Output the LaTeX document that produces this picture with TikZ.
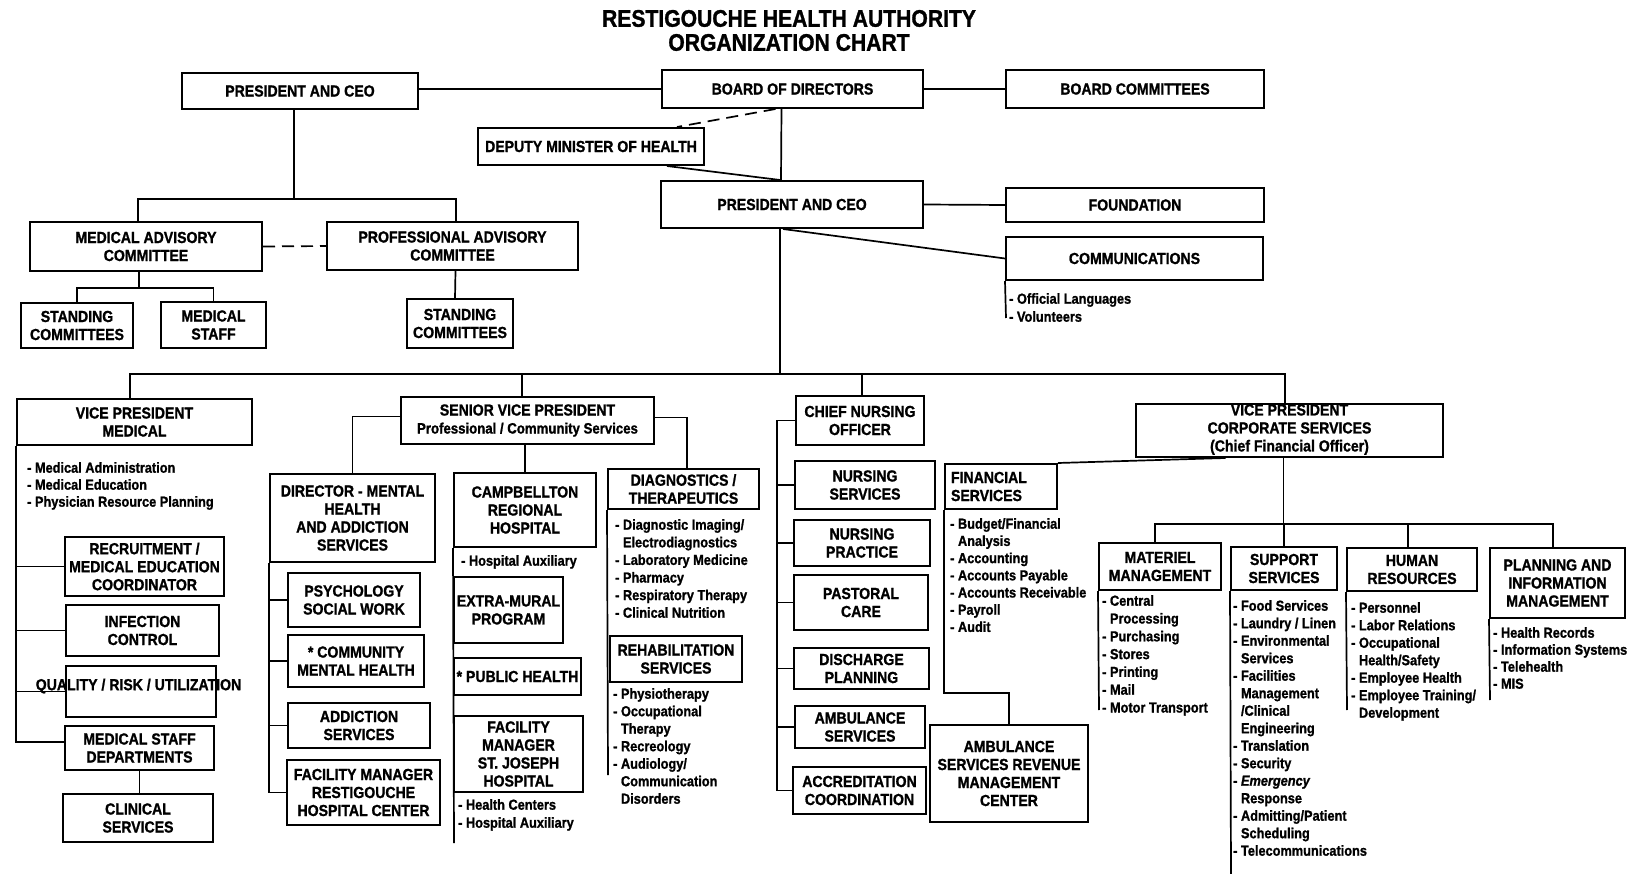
\documentclass[tikz,border=0pt]{standalone}
\usepackage{fontspec}
\setmainfont{Liberation Sans}[FakeStretch=0.88, BoldFeatures={FakeBold=1.2}, BoldItalicFeatures={FakeBold=1.2}]
\newcommand{\boxfont}{\fontsize{16}{18}\selectfont\bfseries}
\newcommand{\ind}{\hphantom{- }}
\begin{document}
\begin{tikzpicture}[x=1pt,y=-1pt,
  bx/.style={draw, line width=2pt, inner sep=0pt, align=center, font=\boxfont},
  ln/.style={line width=1.7pt},
  dln/.style={line width=1.7pt, dash pattern=on 12pt off 7pt},
  bl/.style={anchor=north west, inner sep=0pt, align=left, font=\fontsize{14.5}{#1}\selectfont\bfseries},
  bl/.default=17.5,
  ttl/.style={inner sep=0pt, align=center, font=\fontsize{24}{24}\selectfont\bfseries}
]
\useasboundingbox (0,0) rectangle (1636,874);

% title
\node[ttl] (title) at (789,30.5) {RESTIGOUCHE HEALTH AUTHORITY\\ORGANIZATION CHART};

% top level
\node[bx, minimum width=236pt, minimum height=36pt] (pcA) at (300,91) {PRESIDENT AND CEO};
\node[bx, minimum width=261pt, minimum height=38pt] (bod) at (792.5,89) {BOARD OF DIRECTORS};
\node[bx, minimum width=258pt, minimum height=38pt] (bc) at (1135,89) {BOARD COMMITTEES};
\node[bx, minimum width=226pt, minimum height=37pt] (dep) at (591,146.5) {DEPUTY MINISTER OF HEALTH};
\node[bx, minimum width=262pt, minimum height=47pt] (pcB) at (792,204.5) {PRESIDENT AND CEO};
\node[bx, minimum width=258pt, minimum height=34pt] (fnd) at (1135,205) {FOUNDATION};
\node[bx, minimum width=257pt, minimum height=43pt] (com) at (1134.5,258.5) {COMMUNICATIONS};
\node[bl=18] (comL) at (1009,293) {- Official Languages\\- Volunteers};

% advisory committees
\node[bx, minimum width=232pt, minimum height=49pt] (mac) at (146,246.5) {MEDICAL ADVISORY\\COMMITTEE};
\node[bx, minimum width=251pt, minimum height=48pt] (pac) at (452.5,246) {PROFESSIONAL ADVISORY\\COMMITTEE};
\node[bx, minimum width=112pt, minimum height=45pt] (sc1) at (77,325.5) {STANDING\\COMMITTEES};
\node[bx, minimum width=105pt, minimum height=46pt] (ms) at (213.5,325) {MEDICAL\\STAFF};
\node[bx, minimum width=106pt, minimum height=49pt] (sc2) at (460,323.5) {STANDING\\COMMITTEES};

% vice presidents
\node[bx, minimum width=235pt, minimum height=46pt] (vpm) at (134.5,422) {VICE PRESIDENT\\MEDICAL};
\node[bx, minimum width=253pt, minimum height=47pt] (svp) at (527.5,420.5) {SENIOR VICE PRESIDENT\\{\fontsize{15}{18}\selectfont Professional / Community Services}};
\node[bx, minimum width=128pt, minimum height=49pt] (cno) at (860,420.5) {CHIEF NURSING\\OFFICER};
\node[bx, minimum width=307pt, minimum height=53pt] (vpc) at (1289.5,430.5) {VICE PRESIDENT\\CORPORATE SERVICES\\\underline{(Chief Financial Officer)}};

% VP medical column
\node[bl=17] (vpmL) at (27,462) {- Medical Administration\\- Medical Education\\- Physician Resource Planning};
\node[bx, minimum width=159pt, minimum height=59pt] (rec) at (144.5,566.5) {RECRUITMENT /\\MEDICAL EDUCATION\\COORDINATOR};
\node[bx, minimum width=153pt, minimum height=51pt] (inf) at (142.5,630.5) {INFECTION\\CONTROL};
\node[bx, minimum width=150pt, minimum height=51pt] (qual) at (141,691.5) {};
\node[inner sep=0pt, font=\boxfont] (qtext) at (138.5,686) {QUALITY / RISK / UTILIZATION};
\node[bx, minimum width=149pt, minimum height=44pt] (msd) at (139.5,748) {MEDICAL STAFF\\DEPARTMENTS};
\node[bx, minimum width=150pt, minimum height=48pt] (cs) at (138,818) {CLINICAL\\SERVICES};

% SVP column
\node[bx, minimum width=165pt, minimum height=88pt] (dir) at (352.5,518) {DIRECTOR - MENTAL\\HEALTH\\AND ADDICTION\\SERVICES};
\node[bx, minimum width=132pt, minimum height=54pt] (psy) at (354,600) {PSYCHOLOGY\\SOCIAL WORK};
\node[bx, minimum width=136pt, minimum height=52pt] (cmh) at (356,661) {* COMMUNITY\\MENTAL HEALTH};
\node[bx, minimum width=142pt, minimum height=45pt] (add) at (359,725.5) {ADDICTION\\SERVICES};
\node[bx, minimum width=153pt, minimum height=65pt] (fmr) at (363.5,792.5) {FACILITY MANAGER\\RESTIGOUCHE\\HOSPITAL CENTER};

\node[bx, minimum width=142pt, minimum height=74pt] (cam) at (525,510) {CAMPBELLTON\\REGIONAL\\HOSPITAL};
\node[bl] (camL) at (461,555) {- Hospital Auxiliary};
\node[bx, minimum width=109pt, minimum height=66pt] (emp) at (508.5,610) {EXTRA-MURAL\\PROGRAM};
\node[bx, minimum width=127pt, minimum height=37pt] (ph) at (517.5,676.5) {* PUBLIC HEALTH};
\node[bx, minimum width=129pt, minimum height=76pt] (fmj) at (518.5,754) {FACILITY\\MANAGER\\ST. JOSEPH\\HOSPITAL};
\node[bl=18] (fmjL) at (458,799) {- Health Centers\\- Hospital Auxiliary};

\node[bx, minimum width=151pt, minimum height=40pt] (dia) at (683.5,489) {DIAGNOSTICS /\\THERAPEUTICS};
\node[bl=17.6] (diaL) at (615,519) {- Diagnostic Imaging/\\\ind Electrodiagnostics\\- Laboratory Medicine\\- Pharmacy\\- Respiratory Therapy\\- Clinical Nutrition};
\node[bx, minimum width=132pt, minimum height=46pt] (reh) at (676,659) {REHABILITATION\\SERVICES};
\node[bl] (rehL) at (613,688) {- Physiotherapy\\- Occupational\\\ind Therapy\\- Recreology\\- Audiology/\\\ind Communication\\\ind Disorders};

% nursing column
\node[bx, minimum width=140pt, minimum height=48pt] (ns) at (865,485) {NURSING\\SERVICES};
\node[bx, minimum width=136pt, minimum height=46pt] (np) at (862,543) {NURSING\\PRACTICE};
\node[bx, minimum width=134pt, minimum height=55pt] (pc) at (861,602.5) {PASTORAL\\CARE};
\node[bx, minimum width=135pt, minimum height=41pt] (dp) at (861.5,668.5) {DISCHARGE\\PLANNING};
\node[bx, minimum width=130pt, minimum height=42pt] (amb) at (860,727) {AMBULANCE\\SERVICES};
\node[bx, minimum width=133pt, minimum height=47pt] (ac) at (859.5,790.5) {ACCREDITATION\\COORDINATION};

% corporate column
\node[bx, minimum width=112pt, minimum height=45pt, text width=100pt, align=left] (fs) at (1001,486.5) {FINANCIAL\\SERVICES};
\node[bl=17.2] (fsL) at (950,518) {- Budget/Financial\\\ind Analysis\\- Accounting\\- Accounts Payable\\- Accounts Receivable\\- Payroll\\- Audit};
\node[bx, minimum width=158pt, minimum height=97pt] (asr) at (1009,773.5) {AMBULANCE\\SERVICES REVENUE\\MANAGEMENT\\CENTER};
\node[bx, minimum width=122pt, minimum height=47pt] (mm) at (1160,566.5) {MATERIEL\\MANAGEMENT};
\node[bl=17.8] (mmL) at (1102,595) {- Central\\\ind Processing\\- Purchasing\\- Stores\\- Printing\\- Mail\\- Motor Transport};
\node[bx, minimum width=106pt, minimum height=43pt] (ss) at (1284,568.5) {SUPPORT\\SERVICES};
\node[bl] (ssL) at (1233,600) {- Food Services\\- Laundry / Linen\\- Environmental\\\ind Services\\- Facilities\\\ind Management\\\ind /Clinical\\\ind Engineering\\- Translation\\- Security\\- \textit{Emergency}\\\ind Response\\- Admitting/Patient\\\ind Scheduling\\- Telecommunications};
\node[bx, minimum width=130pt, minimum height=43pt] (hr) at (1412,569.5) {HUMAN\\RESOURCES};
\node[bl] (hrL) at (1351,602) {- Personnel\\- Labor Relations\\- Occupational\\\ind Health/Safety\\- Employee Health\\- Employee Training/\\\ind Development};
\node[bx, minimum width=135pt, minimum height=70pt] (pim) at (1557.5,583) {PLANNING AND\\INFORMATION\\MANAGEMENT};
\node[bl=17] (pimL) at (1493,627) {- Health Records\\- Information Systems\\- Telehealth\\- MIS};

% free ends of vertical list lines
\coordinate (comE) at (1006,318);
\coordinate (camE) at (454,843);
\coordinate (diaE) at (608,775);
\coordinate (fsJ) at (1009,693);
\coordinate (mmE) at (1099,710);
\coordinate (ssE) at (1231,874);
\coordinate (hrE) at (1347,710);
\coordinate (pimE) at (1490,700);

% top connectors
\draw[ln] (pcA.east |- bod.west) -- (bod.west);
\draw[ln] (bod.east) -- (bc.west);
\draw[dln] ([xshift=-17pt]bod.south) -- ([xshift=86pt]dep.north);
\draw[ln] ([xshift=-11pt]bod.south) -- ([xshift=-11pt]pcB.north);
\draw[ln] ([xshift=76pt]dep.south) -- ([xshift=-12pt]pcB.north);
\draw[ln] (pcB.east) -- (fnd.west);
\draw[ln] ([xshift=-9pt]pcB.south) -- (com.west);
\draw[ln] (com.south west) -- (comE);

% advisory tree
\draw[ln] ([xshift=-6pt]pcA.south) -- ++(0,89) coordinate (ab);
\draw[ln] ([xshift=-8pt]mac.north) |- (ab) -| ([xshift=3.5pt]pac.north);
\draw[dln] (mac.east) -- (pac.west);
\draw[ln] ([xshift=-7pt]mac.south) -- ++(0,16) coordinate (mb2);
\draw[ln] (sc1.north) |- (mb2) -| (ms.north);
\draw[ln] ([xshift=3pt]pac.south) -- ([xshift=-5pt]sc2.north);

% main bus
\draw[ln] ([xshift=-12pt]pcB.south) -- ++(0,145) coordinate (mb);
\draw[ln] ([xshift=-4.5pt]vpm.north) |- (mb);
\draw[ln] ([xshift=-4.5pt]vpc.north) |- (mb);
\draw[ln] ([xshift=-5.5pt]svp.north) |- (mb);
\draw[ln] ([xshift=2pt]cno.north) |- (mb);

% VP medical
\draw[ln] (vpm.south west) |- (rec.west);
\draw[ln] (vpm.south west) |- (inf.west);
\draw[ln] (vpm.south west) |- (qual.west);
\draw[ln] (vpm.south west) |- ([yshift=6pt]msd.west);
\draw[ln] (msd.south) -- (msd.south |- cs.north);

% SVP
\draw[ln] ([yshift=4pt]svp.west) -| (dir.north);
\draw[ln] ([yshift=3pt]svp.east) -| ([xshift=3.5pt]dia.north);
\draw[ln] (cam.north |- svp.south) -- (cam.north);
\draw[ln] (dir.south west) |- (psy.west);
\draw[ln] (dir.south west) |- (cmh.west);
\draw[ln] (dir.south west) |- (add.west);
\draw[ln] (dir.south west) |- (fmr.west);
\draw[ln] (cam.south west) -- (camE);
\draw[ln] (dia.south west) -- (diaE);

% nursing
\draw[ln] (cno.west) -- ++(-18,0) coordinate (cnoS);
\draw[ln] (cnoS) |- (ns.west);
\draw[ln] (cnoS) |- (np.west);
\draw[ln] (cnoS) |- (pc.west);
\draw[ln] (cnoS) |- (dp.west);
\draw[ln] (cnoS) |- (amb.west);
\draw[ln] (cnoS) |- (ac.west);

% corporate
\draw[ln] (fs.north east) -- ([xshift=-64pt]vpc.south);
\draw[ln] (fs.south west) |- (fsJ) -- (asr.north);
\draw[ln] ([xshift=-6pt]vpc.south) -- ++(0,66) coordinate (vb);
\draw[ln] ([xshift=-5pt]mm.north) |- (vb);
\draw[ln] (ss.north) |- (vb);
\draw[ln] ([xshift=-4pt]hr.north) |- (vb);
\draw[ln] ([xshift=-4.5pt]pim.north) |- (vb);
\draw[ln] (mm.south west) -- (mmE);
\draw[ln] (ss.south west) -- (ssE);
\draw[ln] (hr.south west) -- (hrE);
\draw[ln] (pim.south west) -- (pimE);
\end{tikzpicture}
\end{document}
